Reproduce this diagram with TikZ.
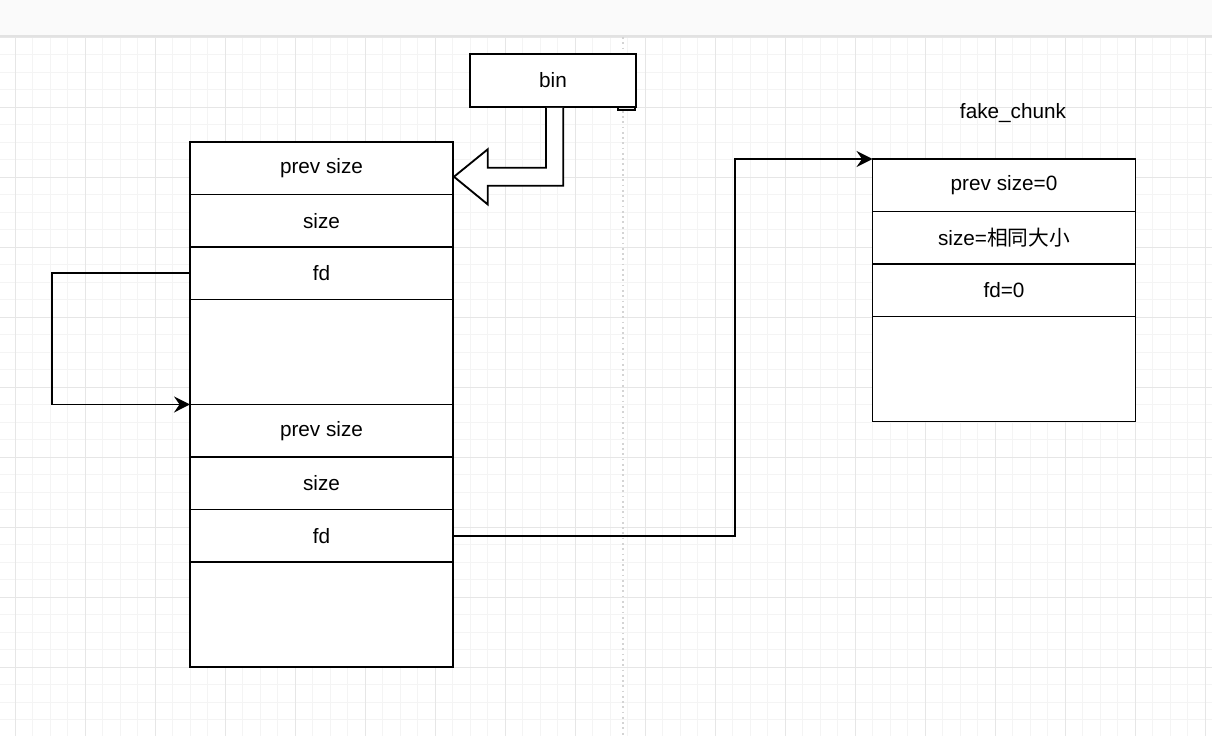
\documentclass[tikz,border=0pt]{standalone}
\usepackage{fontspec}
\setmainfont{Liberation Sans}
\newfontfamily\cjk{Noto Sans CJK SC}
\usepackage{xcolor}
\usetikzlibrary{arrows.meta,positioning,calc}
\definecolor{HeapLine}{HTML}{000000}
\definecolor{GridMinor}{HTML}{F4F4F4}
\definecolor{GridMajor}{HTML}{E6E6E6}
\definecolor{BarFill}{HTML}{FAFAFA}
\definecolor{BarEdge}{HTML}{E2E2E2}
\definecolor{PageLine}{HTML}{D4D4D4}
\tikzset{
  chunkrow/.style={draw=HeapLine,line width=1.05pt,fill=white,minimum width=5.26cm,minimum height=1.05cm,inner sep=0pt,outer sep=0pt,font=\fontsize{11.8}{14}\selectfont},
  chunkgap/.style={chunkrow,minimum height=2.1cm},
  binbox/.style={chunkrow,minimum width=3.32cm,minimum height=1.06cm},
  plainlabel/.style={font=\fontsize{11.8}{14}\selectfont,inner sep=0pt},
  link/.style={-{Stealth[length=3.2mm,width=3.2mm,inset=1.1mm]},line width=1.05pt,draw=HeapLine},
  flexarrow/.style={line width=1.05pt,draw=HeapLine,fill=white,line join=miter}
}

\begin{document}
\begin{tikzpicture}[x=0.02cm,y=-0.02cm,node distance=0pt]
\useasboundingbox (0,0) rectangle (1212,736);
% canvas
\fill[white] (0,0) rectangle (1212,736);
\foreach \i in {0,...,70} \draw[GridMinor,line width=0.5pt] ({-2.2+17.5*\i},37) -- ({-2.2+17.5*\i},736);
\foreach \j in {0,...,40} \draw[GridMinor,line width=0.5pt] (0,{37.3+17.5*\j}) -- (1212,{37.3+17.5*\j});
\foreach \i in {0,...,17} \draw[GridMajor,line width=0.6pt] ({15.3+70*\i},37) -- ({15.3+70*\i},736);
\foreach \j in {0,...,10} \draw[GridMajor,line width=0.6pt] (0,{37.3+70*\j}) -- (1212,{37.3+70*\j});
\fill[BarFill] (0,0) rectangle (1212,36);
\draw[BarEdge,line width=0.8pt] (0,36) -- (1212,36);
\draw[PageLine,line width=1pt,dotted] (623,37) -- (623,736);

% left heap
\node[chunkrow] (c1prev) at (321.5,168.25) {prev size};
\node[chunkrow,below=of c1prev] (c1size) {size};
\node[chunkrow,below=of c1size] (c1fd) {fd};
\node[chunkgap,below=of c1fd] (c1data) {};
\node[chunkrow,below=of c1data] (c2prev) {prev size};
\node[chunkrow,below=of c2prev] (c2size) {size};
\node[chunkrow,below=of c2size] (c2fd) {fd};
\node[chunkgap,below=of c2fd] (c2data) {};

% bin
\node[binbox] (bin) at (553,80.5) {bin};
\draw[line width=0.6pt,fill=GridMajor] ($(bin.south east)+(-18,0.9)$) rectangle ($(bin.south east)+(-1,3)$);

% fake chunk
\node[plainlabel] (fakelbl) at (1013,113) {fake\_chunk};
\node[chunkrow] (f1prev) at (1004,185.25) {prev size=0};
\node[chunkrow,below=of f1prev] (f1size) {size={\cjk 相同大小}};
\node[chunkrow,below=of f1size] (f1fd) {fd=0};
\node[chunkgap,below=of f1fd] (f1data) {};

% connectors
\coordinate (bintip) at ($(c1prev.east)+(1,8.5)$);
\draw[flexarrow] ($(bin.south)+(-7,0.9)$) |- ($(bintip)+(33.7,-9)$)
  -- ($(bintip)+(33.7,-27.4)$) -- (bintip) -- ($(bintip)+(33.7,27.6)$) -- ($(bintip)+(33.7,9)$)
  -| ($(bin.south)+(10.3,0.9)$);
\draw[link] (c1fd.west) -- ++(-138,0) |- (c2prev.north west);
\draw[link] (c2fd.east) -- ++(282,0) |- (f1prev.north west);
\end{tikzpicture}
\end{document}
